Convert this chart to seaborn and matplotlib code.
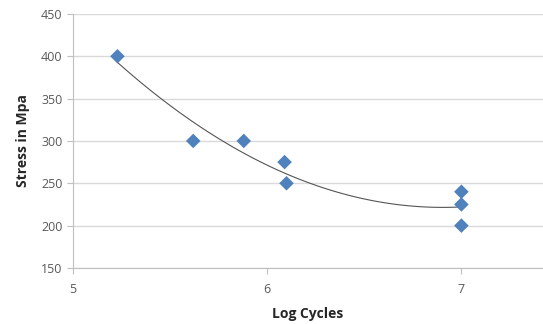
import matplotlib
matplotlib.use("Agg")
import matplotlib.pyplot as plt
import pandas as pd
import seaborn as sns

log_cycles = [5.23, 5.62, 5.88, 6.09, 6.10, 7.0, 7.0, 7.0]
stress_mpa = [400, 300, 300, 275, 250, 240, 225, 200]
y_ticks = [150, 200, 250, 300, 350, 400, 450]
x_ticks = [5, 6, 7]

df = pd.DataFrame({"Log Cycles": log_cycles, "Stress in Mpa": stress_mpa})

sns.set_style("white")
plt.rcParams["font.family"] = ["Open Sans", "DejaVu Sans"]

fig = plt.figure(figsize=(5.43, 3.24), dpi=100)
ax = fig.add_axes([0.134, 0.173, 0.866, 0.784])

# Excel-style 2nd order polynomial trendline
sns.regplot(
    data=df, x="Log Cycles", y="Stress in Mpa", order=2, ci=None, scatter=False,
    truncate=True, line_kws={"color": "#555555", "lw": 0.8}, ax=ax,
)
sns.scatterplot(
    data=df, x="Log Cycles", y="Stress in Mpa", marker="D", s=55,
    color="#4F81BD", edgecolor="none", zorder=3, ax=ax,
)

ax.set_xlim(5, 7.42)
ax.set_ylim(150, 450)
ax.set_xticks(x_ticks)
ax.set_yticks(y_ticks)
ax.yaxis.grid(True, color="#d9d9d9", lw=1)
ax.set_axisbelow(True)
for side in ["top", "right"]:
    ax.spines[side].set_visible(False)
for side in ["left", "bottom"]:
    ax.spines[side].set_color("#bfbfbf")
ax.tick_params(axis="both", length=4, color="#bfbfbf", labelsize=9,
               labelcolor="#595959", direction="out", bottom=True, left=True)
ax.tick_params(axis="x", pad=7)
ax.set_xlabel("Log Cycles", fontsize=10, fontweight="bold", color="#262626",
              labelpad=8)
ax.set_ylabel("Stress in Mpa", fontsize=10, fontweight="bold", color="#262626",
              labelpad=8)

fig.savefig("out.png", dpi=100)
